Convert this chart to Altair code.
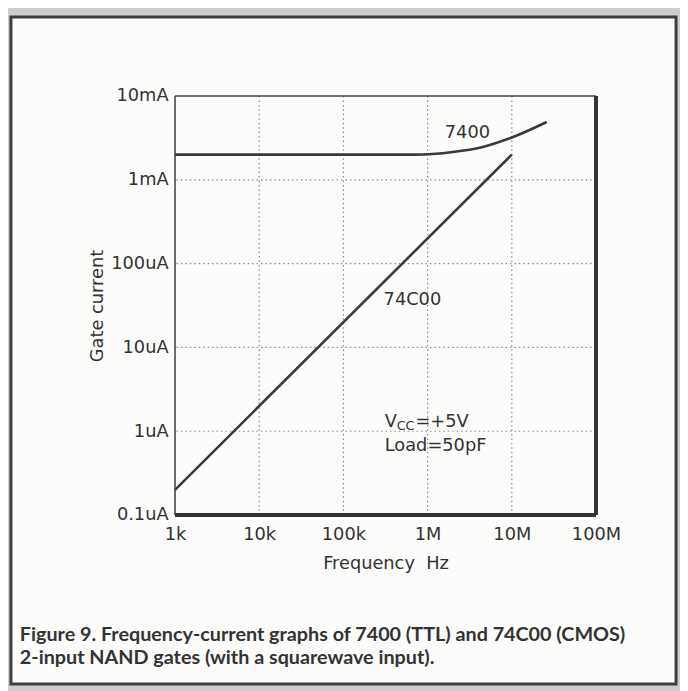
import json
import altair as alt
import pandas as pd

# ---------------- data ----------------
freq_7400 = [1e3, 1e4, 1e5, 7e5, 2e6, 4.4e6, 1e7, 2.6e7]
cur_7400 = [2.0e-3, 2.0e-3, 2.0e-3, 2.0e-3, 2.15e-3, 2.45e-3, 3.2e-3, 4.9e-3]
freq_74c00 = [1e3, 1e7]
cur_74c00 = [2e-7, 2e-3]

x_ticks = [1e3, 1e4, 1e5, 1e6, 1e7, 1e8]
x_labels = ["1k", "10k", "100k", "1M", "10M", "100M"]
y_ticks = [1e-7, 1e-6, 1e-5, 1e-4, 1e-3, 1e-2]
y_labels = ["0.1uA", "1uA", "10uA", "100uA", "1mA", "10mA"]

series_names = ["7400", "74C00"]
series_label_x = [1.6e6, 3.0e5]
series_label_y = [3.6e-3, 3.7e-5]

cond_x = [3.1e5]
cond_y = [1.3e-6, 6.6e-7]

caption_lines = [
    "Figure 9. Frequency-current graphs of 7400 (TTL) and 74C00 (CMOS)",
    "2-input NAND gates (with a squarewave input).",
]

# ---------------- tables ----------------
df_line = pd.concat([
    pd.DataFrame({"f": freq_7400, "i": cur_7400, "s": "7400"}),
    pd.DataFrame({"f": freq_74c00, "i": cur_74c00, "s": "74C00"}),
])
df_gx = pd.DataFrame({"f": x_ticks[1:-1]})
df_gy = pd.DataFrame({"i": y_ticks[1:-1]})
df_lab = pd.DataFrame({"f": series_label_x, "i": series_label_y, "t": series_names})
one = pd.DataFrame({"a": [0]})

FONT = "DejaVu Sans"
FS = 18
INK = "#3a3a3a"
TXT = "#333333"
W, H = 426, 424

xs = alt.Scale(type="log", domain=[1e3, 1e8])
ys = alt.Scale(type="log", domain=[1e-7, 1e-2])

x_expr = json.dumps(x_labels) + "[round(log(datum.value)/LN10)-3]"
y_expr = json.dumps(y_labels) + "[round(log(datum.value)/LN10)+7]"

X_AX = alt.Axis(
    values=x_ticks, labelExpr=x_expr, grid=False, ticks=False, domain=False,
    labelFont=FONT, labelFontSize=FS, labelColor=TXT, labelPadding=11,
    labelOverlap=False, labelFlush=False, zindex=1,
    title="Frequency\u00a0 Hz", titleFont=FONT, titleFontSize=FS, titleFontWeight="normal",
    titleColor=TXT, titleX=W / 2, titleY=49, titleBaseline="middle", titleAlign="center")
Y_AX = alt.Axis(
    values=y_ticks, labelExpr=y_expr, grid=False, ticks=False, domain=False,
    labelFont=FONT, labelFontSize=FS, labelColor=TXT, labelPadding=7,
    labelOverlap=False, labelFlush=False, labelBaseline="middle", zindex=1,
    title="Gate current", titleFont=FONT, titleFontSize=FS, titleFontWeight="normal",
    titleColor=TXT, titleAngle=-90, titleX=-78, titleY=H / 2,
    titleBaseline="middle", titleAlign="center")


def X(field="f:Q"):
    return alt.X(field, scale=xs, axis=X_AX)


def Y(field="i:Q"):
    return alt.Y(field, scale=ys, axis=Y_AX)


panel = alt.Chart(one).mark_rect(fill="#fcfcfa", stroke="#3d3d3d", strokeWidth=3).encode(
    x=alt.value(-166), x2=alt.value(507), y=alt.value(-80), y2=alt.value(595))

grid_x = alt.Chart(df_gx).mark_rule(color="#8a8a8a", strokeDash=[1.5, 3], strokeWidth=1.2).encode(x=X())
grid_y = alt.Chart(df_gy).mark_rule(color="#8a8a8a", strokeDash=[1.5, 3], strokeWidth=1.2).encode(y=Y())

left_b = alt.Chart(pd.DataFrame({"f": [1e3]})).mark_rule(color="#444", strokeWidth=1.6).encode(x=X())
top_b = alt.Chart(pd.DataFrame({"i": [1e-2]})).mark_rule(color="#444", strokeWidth=1.6).encode(y=Y())
right_b = alt.Chart(pd.DataFrame({"f": [1e8]})).mark_rule(color="#333", strokeWidth=4).encode(x=X())
bottom_b = alt.Chart(pd.DataFrame({"i": [1e-7]})).mark_rule(color="#333", strokeWidth=4).encode(y=Y())

lines = alt.Chart(df_line).mark_line(color=INK, strokeWidth=2.6, interpolate="monotone").encode(
    x=X(), y=Y(), detail="s:N")

labels = alt.Chart(df_lab).mark_text(font=FONT, fontSize=FS, color=TXT, align="left",
                                     baseline="middle").encode(x=X(), y=Y(), text="t:N")

df_v = pd.DataFrame({"f": cond_x, "i": [cond_y[0]]})
cond_v = alt.Chart(df_v).mark_text(font=FONT, fontSize=FS, color=TXT, align="left",
                                   baseline="middle").encode(x=X(), y=Y(), text=alt.value("V"))
cond_cc = alt.Chart(df_v).mark_text(font=FONT, fontSize=13, color=TXT, align="left",
                                    baseline="middle", dx=12, dy=4).encode(x=X(), y=Y(), text=alt.value("CC"))
cond_eq = alt.Chart(df_v).mark_text(font=FONT, fontSize=FS, color=TXT, align="left",
                                    baseline="middle", dx=31).encode(x=X(), y=Y(), text=alt.value("=+5V"))
df_l = pd.DataFrame({"f": cond_x, "i": [cond_y[1]]})
cond_load = alt.Chart(df_l).mark_text(font=FONT, fontSize=FS, color=TXT, align="left",
                                      baseline="middle").encode(x=X(), y=Y(), text=alt.value("Load=50pF"))

cap1 = alt.Chart(one).mark_text(font="Lato", fontWeight="bold", fontSize=20, color=TXT,
                                align="left", baseline="middle").encode(
    x=alt.value(-157), y=alt.value(545), text=alt.value(caption_lines[0]))
cap2 = alt.Chart(one).mark_text(font="Lato", fontWeight="bold", fontSize=20, color=TXT,
                                align="left", baseline="middle").encode(
    x=alt.value(-157), y=alt.value(569), text=alt.value(caption_lines[1]))

chart = alt.layer(
    panel, grid_x, grid_y, lines, left_b, top_b, right_b, bottom_b,
    labels, cond_v, cond_cc, cond_eq, cond_load, cap1, cap2,
).properties(
    width=W, height=H,
    autosize=alt.AutoSizeParams(type="none"),
    padding={"left": 169, "top": 85, "right": 85, "bottom": 174},
    background="#cdcdcd",
).configure_view(stroke=None)

chart.save("out.html", embed_options={"renderer": "svg", "actions": False})
